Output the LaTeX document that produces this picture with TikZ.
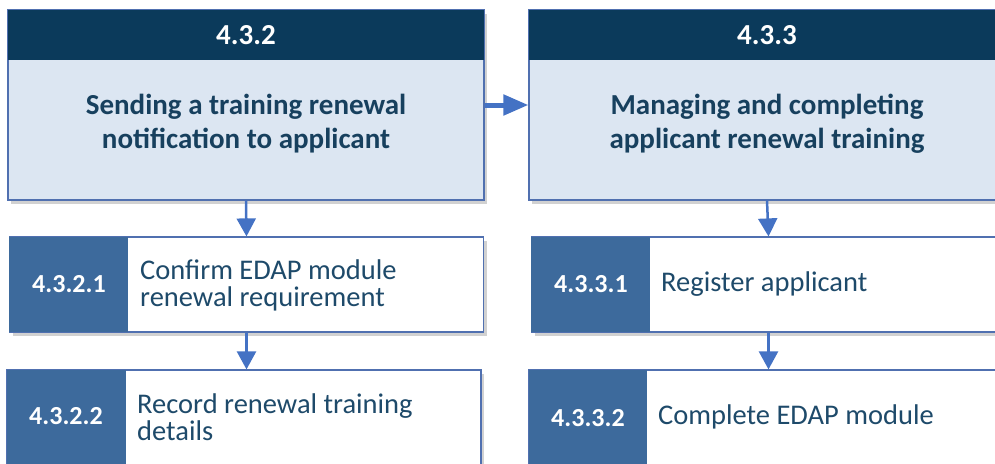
\documentclass[tikz,border=0pt]{standalone}
\usepackage{fontspec}
\setmainfont{Carlito}
\usetikzlibrary{arrows.meta,shadows}
\definecolor{navy}{HTML}{0B3A5B}
\definecolor{lightfill}{HTML}{DCE6F2}
\definecolor{bordercol}{HTML}{5070B0}
\definecolor{subdark}{HTML}{3D6A9C}
\definecolor{arrowcol}{HTML}{4472C4}
\definecolor{titletext}{HTML}{17405E}
\definecolor{subtext}{HTML}{1E4A6A}
\tikzset{
  x=1pt, y=-1pt,
  shadowed/.style={drop shadow={shadow xshift=3pt, shadow yshift=-4pt, opacity=0.3, fill=black!60}},
  headbox/.style={draw=bordercol, line width=1.2pt, fill=lightfill, shadowed, minimum width=476pt, minimum height=190pt, inner sep=0pt},
  band/.style={fill=navy, minimum width=476pt, minimum height=50pt, inner sep=0pt, text=white, font=\bfseries\fontsize{29}{34}\selectfont},
  titletxt/.style={text=titletext, font=\bfseries\fontsize{29}{34}\selectfont, align=center},
  subbox/.style={draw=bordercol, line width=1.2pt, fill=white, shadowed, minimum width=474pt, minimum height=95pt, inner sep=0pt},
  numbox/.style={fill=subdark, inner sep=0pt},
  numtxt/.style={text=white, inner sep=0pt, font=\bfseries\fontsize{26}{30}\selectfont},
  subtxt/.style={text=subtext, font=\fontsize{28.5}{26.5}\selectfont, align=left, anchor=west, inner sep=0pt},
  downarrow/.style={draw=arrowcol, line width=2.5pt, -{Triangle[length=18pt,width=19pt]}},
  sidearrow/.style={draw=arrowcol, line width=5pt, -{Triangle[length=25pt,width=20pt]}},
}
\begin{document}
\begin{tikzpicture}
\useasboundingbox (0,0) rectangle (995,463);
\clip (0,0) rectangle (995,463);
% header boxes
\node[headbox] (h1) at (246,105) {};
\node[band, anchor=north] (h1band) at (h1.north) {4.3.2};
\node[titletxt] (h1t) at (246,124) {Sending a training renewal\\notification to applicant};
\node[headbox] (h2) at (767,105) {};
\node[band, anchor=north] (h2band) at (h2.north) {4.3.3};
\node[titletxt] (h2t) at (767,124) {Managing and completing\\applicant renewal training};
% sub boxes left
\node[subbox] (s1) at (246.5,284.5) {};
\node[numbox, anchor=north west, minimum width=119pt, minimum height=95pt] (s1n) at (s1.north west) {};
\node[numtxt] (s1l) at (69,284) {4.3.2.1};
\node[subtxt] (s1t) at (140,285.5) {Confirm EDAP module\\renewal requirement};
\node[subbox, minimum height=110pt] (s2) at (244,425) {};
\node[numbox, anchor=north west, minimum width=119pt, minimum height=110pt] (s2n) at (s2.north west) {};
\node[numtxt] (s2l) at (66,416.5) {4.3.2.2};
\node[subtxt] (s2t) at (137,417) {Record renewal training\\details};
% sub boxes right
\node[subbox] (r1) at (768.5,284.5) {};
\node[numbox, anchor=north west, minimum width=119pt, minimum height=95pt] (r1n) at (r1.north west) {};
\node[numtxt] (r1l) at (591,284) {4.3.3.1};
\node[subtxt] (r1t) at (661,284) {Register applicant};
\node[subbox, minimum height=110pt] (r2) at (766,425) {};
\node[numbox, anchor=north west, minimum width=118pt, minimum height=110pt] (r2n) at (r2.north west) {};
\node[numtxt] (r2l) at (588,418) {4.3.3.2};
\node[subtxt] (r2t) at (658,417) {Complete EDAP module};
% arrows
\draw[sidearrow] (h1.east |- 0,105) -- (h2.west |- 0,105);
\draw[downarrow] (h1.south) -- (s1.north);
\draw[downarrow] (s1.south) -- (s2.north -| s1.south);
\draw[downarrow] (h2.south) -- (r1.north);
\draw[downarrow] (r1.south) -- (r2.north -| r1.south);
\end{tikzpicture}
\end{document}
